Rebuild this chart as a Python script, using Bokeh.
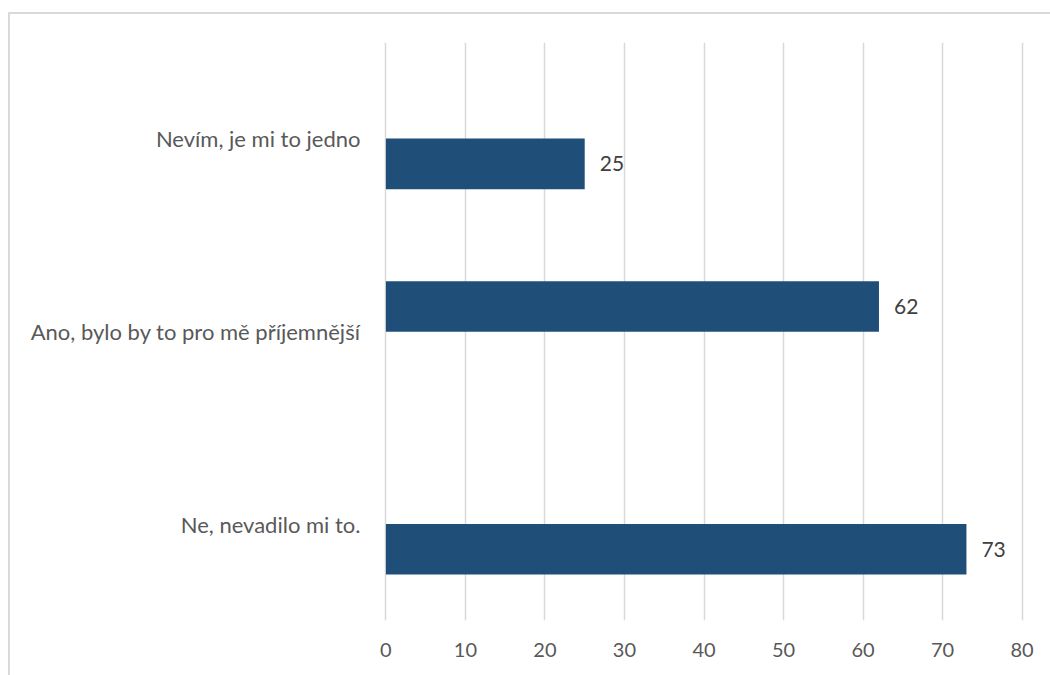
from bokeh.plotting import figure
from bokeh.models import ColumnDataSource, FixedTicker, FactorRange, Range1d
from bokeh.transform import dodge
from bokeh.core.properties import value
from bokeh.embed import file_html
from bokeh.resources import INLINE

# Data (categories listed bottom to top)
categories = ["Ne, nevadilo mi to.", "Ano, bylo by to pro mě příjemnější", "Nevím, je mi to jedno"]
series_upper = [0, 62, 0]   # bar drawn in the upper slot of each category
series_lower = [73, 0, 25]  # bar drawn in the lower slot of each category
x_ticks = [0, 10, 20, 30, 40, 50, 60, 70, 80]

FONT = "Lato"
BAR = "#1F4E79"

def src(vals):
    cats = [c for c, v in zip(categories, vals) if v]
    vs = [v for v in vals if v]
    return ColumnDataSource(dict(cat=cats, val=vs, lbl=[str(v) for v in vs]))

pad = 0.3
p = figure(
    y_range=FactorRange(*categories), x_range=Range1d(x_ticks[0] - pad, x_ticks[-1] + pad),
    frame_width=641, frame_height=578,
    min_border_left=373, min_border_right=26, min_border_top=28, min_border_bottom=55,
    output_backend="svg", toolbar_location=None,
    margin=(12, 0, 0, 8),
    styles={"border-top": "2px solid #d9d9d9", "border-left": "2px solid #d9d9d9"},
)
p.outline_line_color = None
p.background_fill_color = "white"
p.border_fill_color = "white"

p.ygrid.visible = False
p.xgrid.ticker = FixedTicker(ticks=x_ticks)
p.xgrid.grid_line_color = "#d9d9d9"
p.xgrid.grid_line_width = 1.5

p.xaxis.ticker = FixedTicker(ticks=x_ticks)
for ax in (p.xaxis[0], p.yaxis[0]):
    ax.axis_line_color = None
    ax.major_tick_line_color = None
    ax.minor_tick_line_color = None
    ax.major_label_text_font = FONT
    ax.major_label_text_color = "#595959"
    ax.major_label_text_font_size = "20px"
p.xaxis.major_label_standoff = 16
p.yaxis.major_label_standoff = 17
p.yaxis.major_label_text_font_size = "22px"

bar_h = 0.2625
off = 0.13
for vals, d in ((series_upper, off), (series_lower, -off)):
    s = src(vals)
    y = dodge("cat", d, range=p.y_range)
    p.hbar(y=y, left=0, right="val", height=bar_h, source=s,
           fill_color=BAR, line_color=None)
    p.text(x="val", y=y, text="lbl", source=s, x_offset=15,
           text_baseline="middle", text_align="left",
           text_font=value(FONT), text_font_size="21px", text_color="#404040")

open("out.html", "w").write(file_html(p, INLINE))
